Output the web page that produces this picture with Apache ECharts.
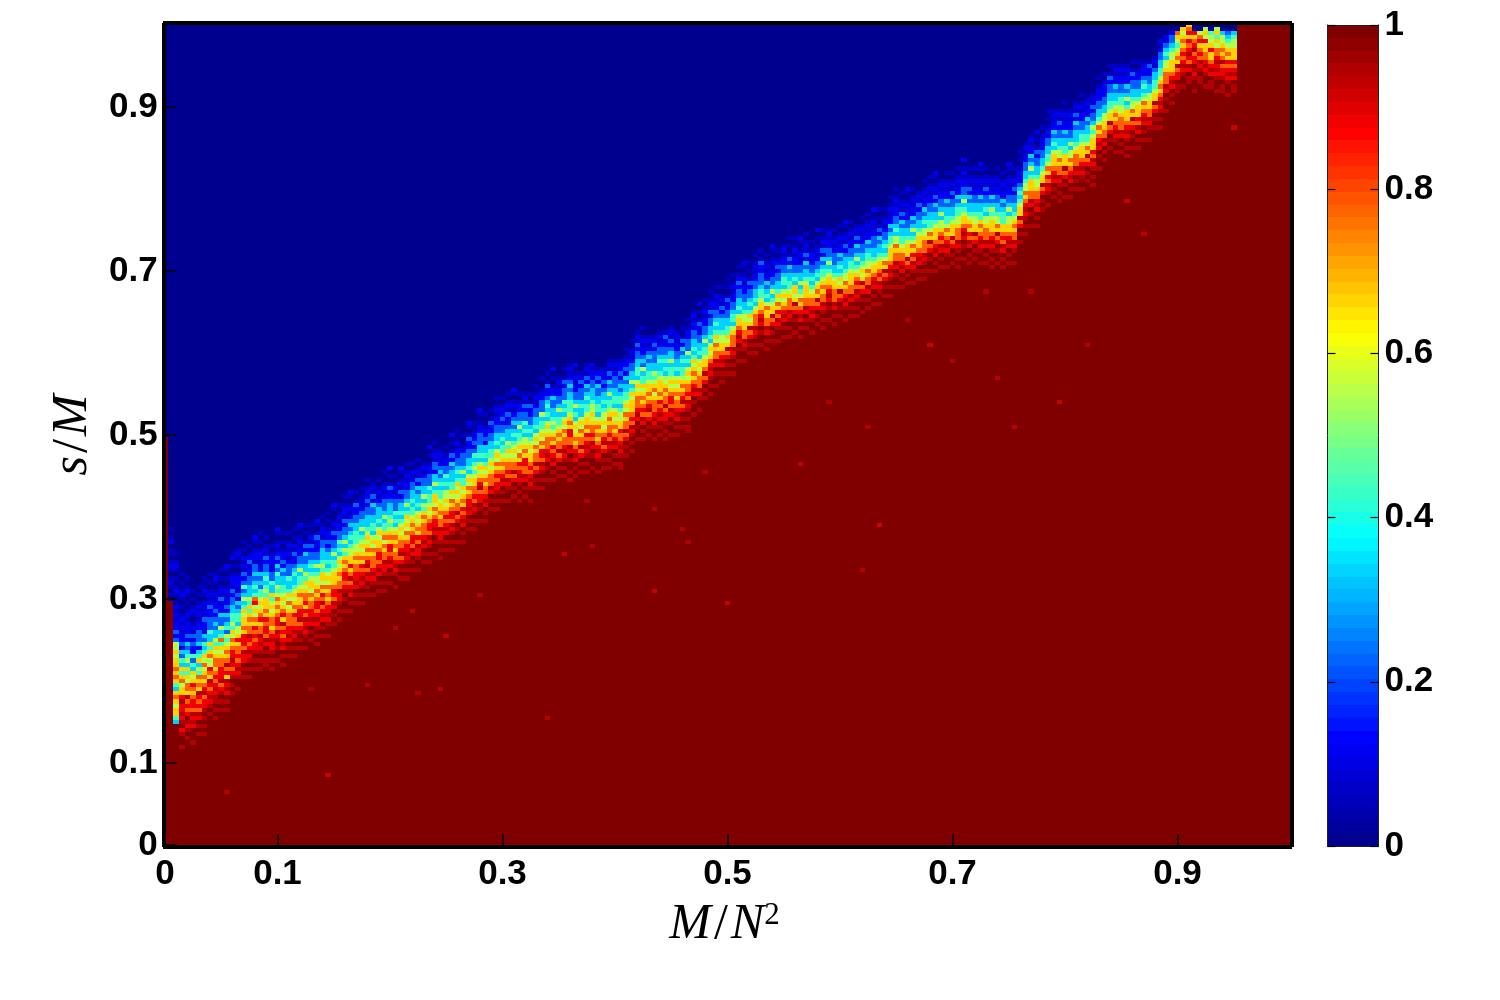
<!DOCTYPE html>
<html>
<head>
<meta charset="utf-8">
<title>s/M vs M/N^2</title>
<script src="https://cdn.jsdelivr.net/npm/echarts@6/dist/echarts.min.js"></script>
<style>
html, body { margin: 0; background: #fff; }
#chart { width: 1500px; height: 1000px; }
</style>
</head>
<body>
<div id="chart"></div>
<script>
const xTicks = [0, 0.1, 0.3, 0.5, 0.7, 0.9];
const yTicks = [0, 0.1, 0.3, 0.5, 0.7, 0.9];
const barTicks = [0, 0.2, 0.4, 0.6, 0.8, 1];

// level characters used in bandColumns
const levelKeys = '0b12345678a9';
const levelValues = [0, 0.06, 0.11, 0.22, 0.33, 0.44, 0.55, 0.67, 0.78, 0.89, 0.95, 1];

// one entry per column of the transition band:
// "first row:levels going upward". Below the first row a column is 1, above the last it is 0
const bandColumns = [
  // col 0
  '100:0',
  '60:0b0b1b0b1b0bb01b0b0',
  '30:3466567634676766565521211b1b1b0b1b0b0b1b0b',
  '24:a99a89a8a88a8665764634231211b1b1b0b0b1b0b0b',
  '25:9a9a8a98787a677564635432312111b1b0b0b1b0b',
  '25:a9998a8a7887678656342411212b1b0b1b0b0b',
  '26:9a9a98a7878a67674536431322211b1b1b0b0b0',
  '27:a9a9a9a887a876765756434231112b1b10b1b0b',
  '30:99a9a8a878a6785576463342221121b1b0b0b',
  '31:a9a9aa8a878767765645332321211b1b0b1b',
  // col 10
  '32:9a9a9a87a888776564743522311b2b1b0b0b',
  '33:a9a98a8a687a7676545243231211b1b0b0b1',
  '36:9a9a9a878a88767564544332212b11b0b01b',
  '38:a99a8a878776865534432312b111b0b0b1b0',
  '40:9a9a988a7888676656435324212b1b10b0b',
  '41:a9a9a8a878a7767646453332211b21b0b0',
  '42:9a9a9a887878675658743432322b11b0b1',
  '43:a9a9a8a8a77687656544232311b11b0b0b',
  '43:9aa9a98a78878676664543432212b1b0b',
  '43:a9a9a88a87677656546334221b11b0b0',
  // col 20
  '44:9a99a9a8a7887676754533423121b1b0b1',
  '44:a9a98a8787a68765654433231211b0b0b',
  '45:9a9a98a887776575643342221b1b1b0b0',
  '46:a9a9a8a8778676565433432112b10b0b',
  '47:9a9a9a87a88766765443532211b1b0b1',
  '48:a99a8a8a786877656453322312b0b0b',
  '49:9a9a98a887767566543432212b1b0b0',
  '49:a9a9a8a87887676554353221112b0b1',
  '50:9a9a98a87a786756645433322b11b0b0',
  '51:a99a8a88767675654343321211b0b0b',
  // col 30
  '53:9a9a98a78876665443532212b1b00b1',
  '55:a9a9a88a7767656534342211b1b0b0',
  '56:9a99a9a87887676453532212b11b0b0',
  '57:a9a98a87a768665543432321b1b0b1',
  '58:9a9a98a8877676554443322112b0b0',
  '59:a9a9a8a87867656543533221b1b0b',
  '60:9a9a98a7a876765654333221211b0b',
  '61:a99a8a8777675653443322312b1b0',
  '61:9a9a98a87887665653433321b1b0b',
  '62:a9a9a88a7767576443532221b1b00b',
  // col 40
  '63:9a9a98a878867654543332112b0b01',
  '63:a99a8a87767676534342221b1b0b0',
  '64:9a9a987a877656543433212b1b0b1',
  '65:a9a9a8a88767565643532211b1b0b',
  '66:9a9a98a78876765443433221b10b0',
  '67:a99a88a7867656534332312b1b0b',
  '68:9a9a98a8777676453533221b1b00',
  '69:a9a9a8a78876565443422211b0b01',
  '70:9a99a98a8876756643533122b1b0b',
  '70:a9a9a88a7767665443432321b1b0',
  // col 50
  '71:9a9a98a87876565534342211b0b0',
  '72:a9a9a8a78876756443332312b0b01',
  '73:9a99a987a776565643432211b1b0b',
  '74:a9a98a87867656443532221b00b0',
  '76:9a9a98a88767565343322112b0b1',
  '77:a9a9a8a78776654543421211b0b0',
  '78:9a99a9887a876565343322211b0b1',
  '79:a9a98a87767656434331211b00b',
  '81:9a9a98a7776565443322112b0b0',
  '82:a9a9a887876756534332211b1b0b',
  // col 60
  '83:9a9a98a87676544343221211b0b0',
  '84:a99a8a7877656453332112b1b0b',
  '84:9a9a987a77656543432321b1b0b1',
  '84:a9a9a8a87867565443532211b0b0',
  '84:9a9a98a77886765534342212b1b0',
  '84:a99a8a878766565434322112b0b',
  '86:9a9a987a77675653433221b1b0b',
  '87:a9a9a8a78867565443522211b00b',
  '88:9a99a98a87776565343432112b0b',
  '89:a9a98a87867654543322311b0b01',
  // col 70
  '89:9a9a987a776765443532211b1b0',
  '90:a9a9a8a87767565343422212b0b',
  '90:9a99a98a77886765444332321b1b',
  '90:a9a98a87676565343532211b1b01',
  '90:9a9a987a77675653343222121b0',
  '91:a9a9a8a87867665443432312b1b',
  '91:9a99a98a78776565543332211b10',
  '91:a99a8a8767676534433223121b0',
  '91:9a9a987a87656554343321211b0',
  '92:a9a9a8a78776765443532312b1b',
  // col 80
  '92:9a9a98a87676565344332221b1b0',
  '92:a99a8a87786655434432321211b0',
  '94:9a9a987a77675654433231211b0b',
  '96:a9a9a8a7876665643533221b1b0b',
  '98:9a99a98a87776565344332212b1b0',
  '99:a9a98a78767656443523211b1b0b',
  '99:9a9a987a876766544332321b1b0',
  '99:a99a8a8777657654533222121b0',
  '99:9a9a98a87867666543343221b1b',
  '99:a9a9a887a77676553434322112b',
  // col 90
  '99:9a99a98a78876565443533212b1b',
  '100:a9a98a87767656534332211b1b0',
  '101:9a9a987a876765443432312b0b0',
  '102:a9a9a8a78776565343522211b0b',
  '104:9a99a98a8767656434332211b1b0',
  '106:a99a8a7776565343322112b0b01',
  '108:9a9a987a7665443532211b1b0b',
  '110:a9a9a8a87656534332212b1b0b',
  '111:9a99a98a77675643432211b10b0',
  '113:a9a98a8766554333212b1b0b0',
  // col 100
  '114:9a9a987a656443322112b0b0b',
  '115:a9a9a8a7776534432211b1b0b0',
  '117:9a99a98a87665343322121b0b0',
  '118:a99a8a7766554332211b1b0b1',
  '119:9a9a987a65643432212b0b0b',
  '120:a9a9a8a7776534332211b1b0b',
  '121:9a99a98a87665443222112b0b0',
  '121:a9a98a7766753432311b1b0b',
  '122:9a9a987a66543532211b1b0b1',
  '123:a99a8a78675643322121b0b0',
  // col 110
  '123:9a9a98a87656534432211b1b0',
  '124:a9a9a8a7776544332312b0b0b',
  '124:9a99a987a65663432211b1b0b',
  '124:a9a98a8767543533221b1b0b1',
  '125:9a9a98a7766654332312b1b0b',
  '125:a99a8a87765434322111b0b0',
  '126:9a9a987a6765343221b1b0b01',
  '126:a9a9a8a7767654432312b1b0b',
  '127:9a99a98a8766543532211b1b0',
  '127:a9a98a7776654332221b1b0b',
  // col 120
  '128:9a9a987a65643432311b1b0b0',
  '128:a99a8a8767554333212b1b0b1',
  '128:9a9a98a7766654432211b1b0b',
  '129:a9a9a8a7876543532312b1b0',
  '129:9a99a987a65654332211b1b0b',
  '131:a9a98a7767554432311b1b0b0',
  '131:9a9a98a8766543322211b1b01',
  '132:a99a8a7876654332312b0b0b',
  '133:9a9a987a6754343221b1b0b0',
  '134:a9a9a8a8766654432311b1b0b',
  // col 130
  '135:9a99a98a7767553432211b1b0b',
  '136:a9a98a8776544332312b1b0b0',
  '136:9a9a987a66654332211b1b0b1',
  '137:a99a8a7867543532311b1b0b',
  '137:9a9a98a8766654332212b1b0',
  '138:a9a9a8a7776553432311b1b0b',
  '139:9a99a987a67544332211b1b0b',
  '140:a9a98a8766654332312b1b0b1',
  '140:9a9a98a7876553532211b1b0',
  '141:a99a8a8767544332311b1b0b',
  // col 140
  '141:9a9a987a66654332212b1b0b0',
  '141:a9a9a8a7776554432311b1b0b',
  '142:9a99a98a8766543532211b1b01',
  '142:a9a98a7867654332312b1b0b',
  '142:9a9a987a66554332211b1b0b0',
  '142:a99a8a8767644332311b1b0b1',
  '141:9a9a98a7776553432212b1b0b',
  '141:a9a9a8a8766654532311b1b0',
  '141:9a99a987a67554332211b1b0b',
  '141:a9a98a7876644432311b1b0b',
  // col 150
  '141:9a9a98a8766553532211b1b0b1',
  '142:a99a8a7767654332212b1b0b',
  '146:9a9a987a66543432111b0b0b',
  '149:a9a9a8a8767554332211b1b0',
  '150:9a99a98a7766643532311b1b0',
  '151:a9a98a8776554332212b0b01',
  '154:9a9a987a66543322111b0b0',
  '156:a99a8a7867544332211b0b0b',
  '157:9a9a98a8766653432311b1b0',
  '157:a9a9a8a7767554332212b1b0',
  // col 160
  '157:9a99a987a66644332311b1b0b',
  '158:a9a98a8767553532211b1b0',
  '159:9a9a98a7776543332312b1b0',
  '160:a99a8a8766654432211b1b0b',
  '161:9a9a987a67544332311b1b0',
  '161:a9a9a8a7866654532212b1b0',
  '164:9a99a98a8767543322111b0b',
  '167:a9a98a7766553322111b0b',
  '169:9a9a987a66544332212b0b0',
  '169:a99a8a8767654332311b1b',
  // col 170
  '168:9a9a98a7776554432211b1b0',
  '168:a9a9a8a8766643532311b1b',
  '169:9a99a987a67554332212b0b',
  '170:a9a98a7866654332211b0b',
  '171:9a9a98a8767543432111b',
  '172:a99a8a7766553322112b0',
  '174:9a9a987a66544332b1b0',
  '175:a9a9a8a8767654433221b1',
  '178:9a99a98a7776553432b1',
  '181:a9a98a876665543221',
  // col 180
  '183:9aa9887a67654567',
  '185:a99a8a878767656',
  '185:9aa98a78a8786876',
  '184:a99a8a9887a8768',
  '185:9aa9a8a7876875',
  '185:a99a8a877668565',
  '184:9aa98a876686554',
  '184:a99a8a8a87756465',
  '183:9aa9a887a7676553',
  '183:a99a8a8786765432',
  // col 190
  '183:9aa98a8786665543'
];

// lone cells below the band: column, row, value
const strayCols = [11, 29, 68, 36, 45, 49, 26, 56, 50, 41, 44, 76, 71, 92, 93, 100, 124, 127, 113, 118, 125, 151, 159, 164, 140, 148, 132, 136, 146, 154, 190, 87, 96, 87, 81, 75, 72, 93, 171, 174];
const strayRows = [13, 17, 31, 39, 37, 38, 38, 61, 51, 53, 57, 73, 71, 77, 74, 59, 67, 78, 93, 108, 102, 102, 108, 122, 118, 114, 128, 122, 135, 135, 175, 62, 91, 82, 93, 84, 89, 101, 157, 149];
const strayVals = [0.95, 0.93, 0.95, 0.95, 0.95, 0.94, 0.96, 0.95, 0.93, 0.95, 0.94, 0.95, 0.93, 0.95, 0.95, 0.93, 0.95, 0.92, 0.94, 0.95, 0.95, 0.94, 0.93, 0.95, 0.95, 0.94, 0.95, 0.93, 0.95, 0.95, 0.92, 0.93, 0.95, 0.95, 0.94, 0.95, 0.93, 0.95, 0.93, 0.94];

// the 64 colour levels of the colour bar run from 0 to 1
const barLevels = [0.0, 0.016, 0.032, 0.048, 0.063, 0.079, 0.095, 0.111, 0.127, 0.143, 0.159, 0.175, 0.19, 0.206, 0.222, 0.238, 0.254, 0.27, 0.286, 0.302, 0.317, 0.333, 0.349, 0.365, 0.381, 0.397, 0.413, 0.429, 0.444, 0.46, 0.476, 0.492, 0.508, 0.524, 0.54, 0.556, 0.571, 0.587, 0.603, 0.619, 0.635, 0.651, 0.667, 0.683, 0.698, 0.714, 0.73, 0.746, 0.762, 0.778, 0.794, 0.81, 0.825, 0.841, 0.857, 0.873, 0.889, 0.905, 0.921, 0.937, 0.952, 0.968, 0.984, 1.0];

const jet = ['#00008f', '#0000ff', '#0080ff', '#00ffff', '#80ff80', '#ffff00', '#ff8000', '#ff0000', '#800000'];

const gridSize = 201;
const cellStep = 0.005;

// build the cell table from the band strings
const cells = [];
for (let col = 0; col < gridSize; col++) {
  let start = gridSize;
  let levels = '';
  if (col < bandColumns.length) {
    const parts = bandColumns[col].split(':');
    start = +parts[0];
    levels = parts[1];
  }
  for (let row = 0; row < gridSize; row++) {
    let v = 1;
    if (row >= start) {
      if (row - start < levels.length) v = levelValues[levelKeys.indexOf(levels[row - start])];
      else v = 0;
    }
    cells.push([col * cellStep, row * cellStep, v]);
  }
}
strayCols.forEach(function (col, k) {
  cells[col * gridSize + strayRows[k]][2] = strayVals[k];
});
const barCells = barLevels.map(function (v, k) { return [k, k, v]; });

// rects snapped to whole pixels, so the cells show no seams
function snappedRect(a, b, api) {
  const x0 = Math.round(a[0]);
  const y0 = Math.round(a[1]);
  return {
    type: 'rect',
    shape: {x: x0, y: y0, width: Math.round(b[0]) - x0, height: Math.round(b[1]) - y0},
    style: {fill: api.visual('color')}
  };
}
function renderCell(params, api) {
  const x = api.value(0);
  const y = api.value(1);
  return snappedRect(api.coord([x - cellStep / 2, y + cellStep / 2]), api.coord([x + cellStep / 2, y - cellStep / 2]), api);
}
function renderBarCell(params, api) {
  const k = api.value(0);
  return snappedRect(api.coord([0, (k + 1) / barLevels.length]), api.coord([1, k / barLevels.length]), api);
}

const labelFont = {fontFamily: 'Liberation Sans', fontWeight: 'bold', fontSize: 35, color: '#000'};
const mathFont = {fontFamily: 'Liberation Serif', fontStyle: 'italic', fontSize: 50, color: '#000'};
const upright = {fontFamily: 'Liberation Serif', fontSize: 50, color: '#000', padding: [0, 3, 0, 3]};
const frameLine = {show: true, onZero: false, lineStyle: {color: '#000', width: 4, cap: 'square'}};
const barLine = {show: true, onZero: false, lineStyle: {color: '#222', width: 1}};
const plotTick = {show: true, inside: true, length: 13, lineStyle: {color: '#000', width: 1.5}};
const barTick = {show: true, inside: true, length: 8, customValues: barTicks, lineStyle: {color: '#000', width: 1.2}};

let chart = echarts.init(document.getElementById('chart'), null, {renderer: 'canvas'});
let option = {
  animation: false,
  backgroundColor: '#fff',
  grid: [
    {left: 165, top: 25, width: 1125, height: 820},
    {left: 1327.5, top: 25, width: 51, height: 821}
  ],
  visualMap: {
    show: false,
    type: 'continuous',
    min: 0,
    max: 1,
    seriesIndex: [0, 1],
    dimension: 2,
    inRange: {color: jet}
  },
  xAxis: [
    {
      type: 'value', gridIndex: 0, min: 0, max: 1, position: 'bottom', offset: 2, z: 10,
      splitLine: {show: false},
      axisLine: frameLine,
      axisTick: Object.assign({}, plotTick, {customValues: xTicks}),
      axisLabel: Object.assign({}, labelFont, {margin: 10, customValues: xTicks}),
      name: '{m|M}{n|/}{m|N}{s|2}',
      nameLocation: 'middle',
      nameGap: 53,
      nameTextStyle: {padding: [0, 6, 0, 0], rich: {
        m: mathFont,
        n: upright,
        s: {fontFamily: 'Liberation Serif', fontSize: 31, color: '#000', verticalAlign: 'top', lineHeight: 50}
      }}
    },
    {
      type: 'value', gridIndex: 0, min: 0, max: 1, position: 'top', offset: 2, z: 10,
      splitLine: {show: false},
      axisLine: frameLine, axisTick: {show: false}, axisLabel: {show: false}
    },
    {
      type: 'value', gridIndex: 1, min: 0, max: 1, position: 'bottom', z: 10,
      splitLine: {show: false},
      axisLine: barLine, axisTick: {show: false}, axisLabel: {show: false}
    },
    {
      type: 'value', gridIndex: 1, min: 0, max: 1, position: 'top', z: 10,
      splitLine: {show: false},
      axisLine: barLine, axisTick: {show: false}, axisLabel: {show: false}
    }
  ],
  yAxis: [
    {
      type: 'value', gridIndex: 0, min: 0, max: 1, position: 'left', offset: 1.3, z: 10,
      splitLine: {show: false},
      axisLine: frameLine,
      axisTick: Object.assign({}, plotTick, {customValues: yTicks}),
      axisLabel: Object.assign({}, labelFont, {margin: 6, padding: [12, 0, 0, 0], customValues: yTicks}),
      name: '{m|s}{n|/}{m|M}',
      nameLocation: 'middle',
      nameRotate: 90,
      nameGap: 66,
      nameTextStyle: {rich: {m: mathFont, n: upright}}
    },
    {
      type: 'value', gridIndex: 0, min: 0, max: 1, position: 'right', offset: 2, z: 10,
      splitLine: {show: false},
      axisLine: frameLine, axisTick: {show: false}, axisLabel: {show: false}
    },
    {
      type: 'value', gridIndex: 1, min: 0, max: 1, position: 'right', z: 10,
      splitLine: {show: false},
      axisLine: barLine,
      axisTick: barTick,
      axisLabel: Object.assign({}, labelFont, {margin: 6, align: 'left', padding: [12, 0, 0, 0], customValues: barTicks})
    },
    {
      type: 'value', gridIndex: 1, min: 0, max: 1, position: 'left', z: 10,
      splitLine: {show: false},
      axisLine: barLine,
      axisTick: barTick,
      axisLabel: {show: false}
    }
  ],
  series: [
    {
      type: 'custom', xAxisIndex: 0, yAxisIndex: 0, data: cells,
      renderItem: renderCell, encode: {x: 0, y: 1}, clip: true,
      progressive: 0, silent: true
    },
    {
      type: 'custom', xAxisIndex: 2, yAxisIndex: 2, data: barCells,
      renderItem: renderBarCell, encode: {}, clip: false,
      silent: true
    }
  ]
};
chart.setOption(option);
</script>
</body>
</html>
